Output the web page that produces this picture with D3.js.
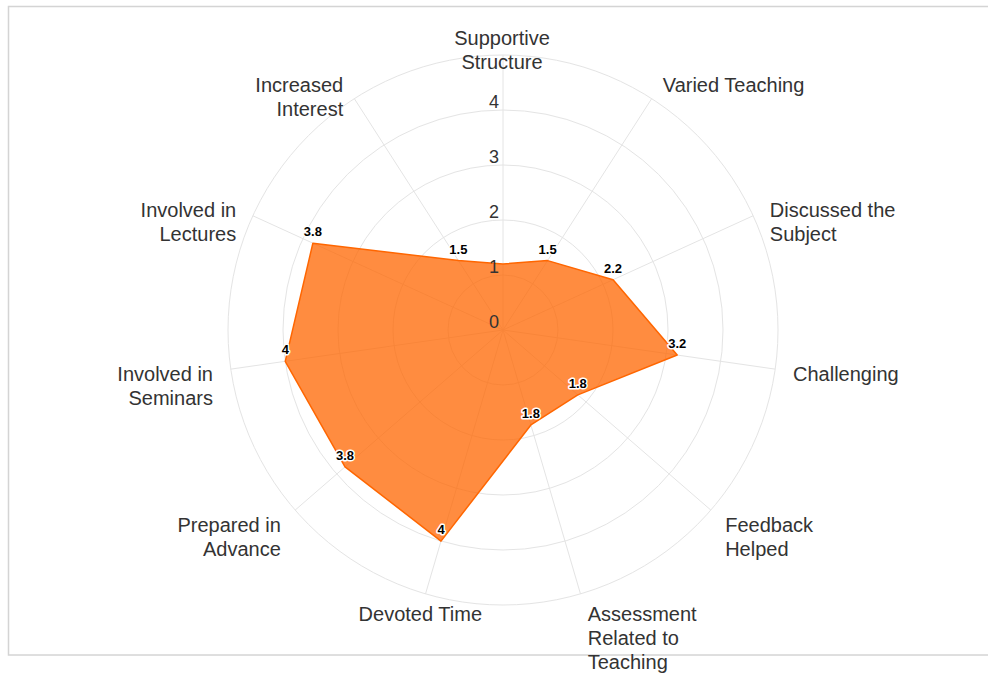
<!DOCTYPE html>
<html>
<head>
<meta charset="utf-8">
<script src="https://cdn.jsdelivr.net/npm/d3@7/dist/d3.min.js"></script>
<style>
  body { margin: 0; background: #fff; }
  svg { display: block; font-family: "Liberation Sans", Arial, sans-serif; }
  .axisLabel { font-size: 20px; fill: #333; }
  .tickLabel { font-size: 18px; fill: #333; }
  .valueLabel { font-size: 13px; font-weight: bold; fill: #000;
                stroke: #fff; stroke-width: 3px; paint-order: stroke; stroke-linejoin: round; }
</style>
</head>
<body>
<div id="chart"></div>
<script>
// Categories, clockwise from the top, with their line breaks.
var categories = [
  ['Supportive', 'Structure'],
  ['Varied Teaching'],
  ['Discussed the', 'Subject'],
  ['Challenging'],
  ['Feedback', 'Helped'],
  ['Assessment', 'Related to', 'Teaching'],
  ['Devoted Time'],
  ['Prepared in', 'Advance'],
  ['Involved in', 'Seminars'],
  ['Involved in', 'Lectures'],
  ['Increased', 'Interest']
];
var scores = [1.2, 1.5, 2.2, 3.2, 1.8, 1.8, 4, 3.8, 4, 3.8, 1.5];
// The value label of the first point is not shown in the chart.
var hiddenLabels = [0];
var radialTicks = [0, 1, 2, 3, 4];
var gridRings = [1, 2, 3, 4, 5];

var width = 988, height = 675;
var cx = 503, cy = 330, outerR = 275;

var svg = d3.select('#chart').append('svg')
    .attr('width', width)
    .attr('height', height);

// Container border.
svg.append('rect')
    .attr('x', 8.5).attr('y', 6.5)
    .attr('width', 990).attr('height', 648.5)
    .attr('fill', 'none')
    .attr('stroke', '#d4d4d4')
    .attr('stroke-width', 1.5);

var r = d3.scaleLinear().domain([0, 5]).range([0, outerR]);
var angle = d3.scaleLinear().domain([0, categories.length]).range([0, 2 * Math.PI]);

var g = svg.append('g').attr('transform', 'translate(' + cx + ',' + cy + ')');

function px(i, v) { return Math.sin(angle(i)) * r(v); }
function py(i, v) { return -Math.cos(angle(i)) * r(v); }

// Grid circles.
g.selectAll('circle.ring').data(gridRings).enter().append('circle')
    .classed('ring', true)
    .attr('r', function(d) { return r(d); })
    .attr('fill', 'none')
    .attr('stroke', '#e4e4e4')
    .attr('stroke-width', 1);

// Spokes.
g.selectAll('line.spoke').data(d3.range(categories.length)).enter().append('line')
    .classed('spoke', true)
    .attr('x1', 0).attr('y1', 0)
    .attr('x2', function(i) { return px(i, 5); })
    .attr('y2', function(i) { return py(i, 5); })
    .attr('stroke', '#e4e4e4')
    .attr('stroke-width', 1);

// Filled area.
var line = d3.lineRadial()
    .angle(function(d, i) { return angle(i); })
    .radius(function(d) { return r(d); })
    .curve(d3.curveLinearClosed);

g.append('path')
    .datum(scores)
    .attr('d', line)
    .attr('fill', '#ff6600')
    .attr('fill-opacity', 0.75)
    .attr('stroke', '#ff6600')
    .attr('stroke-width', 1.5)
    .attr('stroke-linejoin', 'round');

// Radial tick labels.
g.selectAll('text.tickLabel').data(radialTicks).enter().append('text')
    .classed('tickLabel', true)
    .attr('x', -4)
    .attr('y', function(d) { return -r(d) - 2.5; })
    .attr('text-anchor', 'end')
    .text(function(d) { return d; });

// Category labels around the outside.
var labelDist = outerR + 15;
var labels = g.selectAll('text.axisLabel').data(categories).enter().append('text')
    .classed('axisLabel', true)
    .attr('text-anchor', function(d, i) {
      var a = angle(i) * 180 / Math.PI;
      if (a > 20 && a < 180) return 'start';
      if (a > 200 && a < 340) return 'end';
      return 'middle';
    })
    .attr('transform', function(d, i) {
      var a = angle(i) * 180 / Math.PI;
      var shift = (a > 20 && a < 180) ? 3 : (a > 200 && a < 340) ? -3 : -1;
      var x = Math.sin(angle(i)) * labelDist + shift;
      var y = -Math.cos(angle(i)) * labelDist + 5 + 4 * (1 - Math.cos(angle(i)));
      return 'translate(' + x + ',' + y + ')';
    });
labels.selectAll('tspan').data(function(d) { return d; }).enter().append('tspan')
    .attr('x', 0)
    .attr('y', function(d, j) { return j * 24; })
    .text(function(d) { return d; });

// Value labels.
g.selectAll('text.valueLabel')
    .data(scores.map(function(v, i) { return {v: v, i: i}; })
      .filter(function(d) { return hiddenLabels.indexOf(d.i) < 0; }))
  .enter().append('text')
    .classed('valueLabel', true)
    .attr('text-anchor', 'middle')
    .attr('x', function(d) { return px(d.i, d.v); })
    .attr('y', function(d) { return py(d.i, d.v) - 7; })
    .text(function(d) { return d.v; });
</script>
</body>
</html>
